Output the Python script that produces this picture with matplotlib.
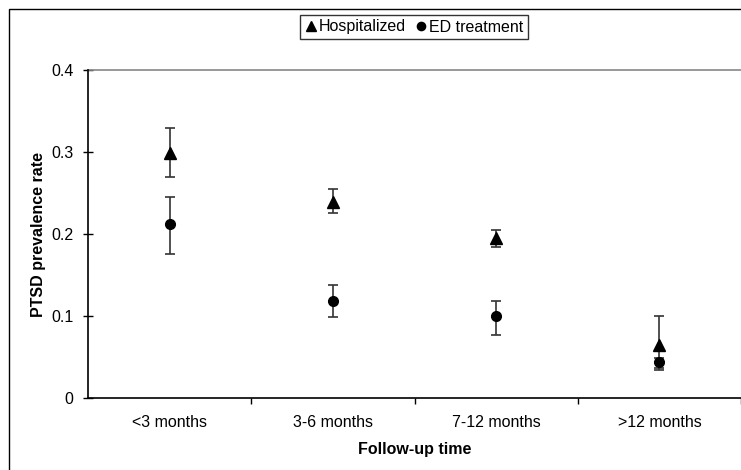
import numpy as np
import matplotlib
matplotlib.use("Agg")
import matplotlib.pyplot as plt
from matplotlib.patches import Rectangle

plt.rcParams['font.family'] = ['Liberation Sans', 'DejaVu Sans']

# data
categories = ['<3 months', '3-6 months', '7-12 months', '>12 months']
hosp = [0.299, 0.239, 0.195, 0.065]
hosp_lo = [0.270, 0.226, 0.184, 0.036]
hosp_hi = [0.329, 0.255, 0.205, 0.100]
ed = [0.212, 0.118, 0.100, 0.044]
ed_lo = [0.176, 0.099, 0.077, 0.034]
ed_hi = [0.245, 0.138, 0.118, 0.049]
yticks = [0, 0.1, 0.2, 0.3, 0.4]

x = np.arange(len(categories))
hosp = np.array(hosp)
ed = np.array(ed)
fs = 11.5

fig = plt.figure(figsize=(7.41, 4.70), dpi=100)
ax = fig.add_axes([0.1188, 0.1532, 0.8812, 0.6978])

# outer chart border (runs off the right/bottom edges like the original)
fig.patches.append(Rectangle((9 / 741, -0.05), 1.2, 1 - 9 / 470 + 0.05,
                             transform=fig.transFigure, fill=False,
                             edgecolor='black', linewidth=1.0, zorder=0))

err_kw = dict(fmt='none', ecolor='#333333', elinewidth=1.2, capsize=3.6, capthick=1.2)
ax.errorbar(x, hosp, yerr=[hosp - np.array(hosp_lo), np.array(hosp_hi) - hosp], **err_kw)
ax.errorbar(x, ed, yerr=[ed - np.array(ed_lo), np.array(ed_hi) - ed], **err_kw)
ax.plot(x, hosp, linestyle='none', marker='^', markersize=8, color='black',
        label='Hospitalized', zorder=3)
ax.plot(x, ed, linestyle='none', marker='o', markersize=7, color='black',
        label='ED treatment', zorder=3)

ax.set_xlim(-0.5, len(categories) - 0.5)
ax.set_ylim(0, 0.4)
ax.set_yticks(yticks)
ax.set_yticklabels(['0', '0.1', '0.2', '0.3', '0.4'], fontsize=fs)
ax.tick_params(axis='y', direction='inout', length=7, width=1, pad=7)

ax.set_xticks(x)
ax.set_xticklabels(categories, fontsize=fs)
ax.tick_params(axis='x', which='major', length=0, pad=12)
ax.set_xticks(np.arange(len(categories)) + 0.5, minor=True)
ax.tick_params(axis='x', which='minor', direction='out', length=4, width=1)

ax.spines['right'].set_visible(False)
ax.spines['top'].set_visible(False)
ax.spines['left'].set_linewidth(1.2)
ax.spines['bottom'].set_linewidth(1.2)
ax.axhline(0.4, color='#888888', linewidth=1.2, clip_on=False)

ax.set_ylabel('PTSD prevalence rate', fontsize=fs, fontweight='bold', labelpad=3.5)
ax.set_xlabel('Follow-up time', fontsize=fs, fontweight='bold', labelpad=9)

leg = fig.legend(loc='center', bbox_to_anchor=(414 / 741, 1 - 27 / 470), ncol=2,
                 fontsize=fs, frameon=True, fancybox=False, handlelength=0.7,
                 handletextpad=0.15, columnspacing=0.6, borderpad=0.3,
                 borderaxespad=0, markerscale=0.85)
leg.get_frame().set_edgecolor('black')
leg.get_frame().set_linewidth(1.0)

fig.savefig('out.png', dpi=100)
